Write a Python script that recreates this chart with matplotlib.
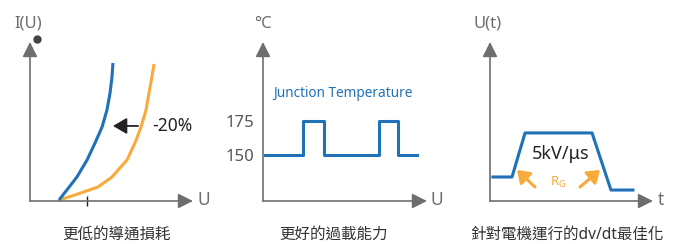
import matplotlib.pyplot as plt
from matplotlib.lines import Line2D

plt.rcParams['font.family'] = ['Noto Sans', 'Noto Sans CJK TC', 'DejaVu Sans']

# colours
blue = '#1f71b8'
orange = '#f9aa3c'
gray = '#6e6e6e'
dark = '#333333'

# panel 1: I(U) curves (arbitrary units)
u_new = [1.78, 2.88, 3.50, 3.99, 4.42, 4.72, 4.91, 5.03, 5.09]
i_new = [0.06, 1.51, 2.58, 3.65, 4.65, 5.72, 6.79, 7.80, 8.68]
u_old = [1.78, 2.76, 4.17, 5.03, 5.95, 6.44, 6.81, 7.12, 7.30, 7.48, 7.61]
i_old = [0.06, 0.38, 0.88, 1.51, 2.58, 3.65, 4.65, 5.72, 6.79, 7.80, 8.62]
u_tick = [3.5]
shift_from = (6.63, 4.72)
shift_to = (5.09, 4.72)

# panel 2: junction temperature pulses
t_temp = [0.12, 2.44, 2.44, 3.72, 3.72, 7.07, 7.07, 8.23, 8.23, 9.39]
temp = [150, 150, 175, 175, 150, 150, 175, 175, 150, 150]
temp_ticks = [150, 175]

# panel 3: switching edge U(t)
t_sw = [0.18, 1.35, 2.15, 6.26, 7.42, 8.77]
u_sw = [1.51, 1.51, 4.28, 4.28, 0.69, 0.69]
rg_arrows = [((2.76, 0.88), (1.66, 1.95)), ((5.52, 0.88), (6.75, 1.95))]

W, H = 680, 244
fig = plt.figure(figsize=(6.8, 2.44), dpi=100)


def px_axes(x0, y0, x1, y1):
    # axes whose lower-left is the pixel origin (x0, y0) and upper-right (x1, y1)
    return fig.add_axes([x0 / W, 1 - y0 / H, (x1 - x0) / W, (y0 - y1) / H])


def ftext(x, y, s, **kw):
    fig.text(x / W, 1 - y / H, s, ha=kw.pop('ha', 'center'), va=kw.pop('va', 'center'), **kw)


def arrows(ax):
    for s in ax.spines.values():
        s.set_visible(False)
    st = '-|>,head_length=0.6,head_width=0.3'
    for end in [(1, 0), (0, 1)]:
        ax.annotate('', xy=end, xytext=(0, 0), xycoords='axes fraction',
                    arrowprops=dict(arrowstyle=st, color=gray, lw=1.2, mutation_scale=15,
                                    shrinkA=0, shrinkB=0))


# ---- panel 1
ax1 = px_axes(30, 201, 193, 42)
ax1.set_xlim(0, 10)
ax1.set_ylim(0, 10)
ax1.plot(u_old, i_old, color=orange, lw=2.2, solid_capstyle='butt', solid_joinstyle='round')
ax1.plot(u_new, i_new, color=blue, lw=2.2, solid_capstyle='butt', solid_joinstyle='round')
ax1.annotate('', xy=shift_to, xytext=shift_from,
             arrowprops=dict(arrowstyle='-|>,head_length=0.6,head_width=0.35',
                             color='#222222', lw=1.3, mutation_scale=14, shrinkA=0, shrinkB=0))
ax1.set_xticks(u_tick)
ax1.set_xticklabels([''])
ax1.tick_params(axis='x', direction='inout', length=7, width=1, color='#222222')
ax1.set_yticks([])
arrows(ax1)
ftext(152, 126, '-20%', ha='left', fontsize=12.5, color='#222222')
ftext(28, 24, 'I(U)', fontsize=12, color=gray)
fig.add_artist(Line2D([37 / W], [1 - 39 / H], marker='o', markersize=5, color='#444444',
                      transform=fig.transFigure))
ftext(437, 200, 'U', fontsize=12.5, color=gray)
ftext(117, 235, '更低的導通損耗', fontsize=11.2, color=dark, fontweight='light')

# ---- panel 2
ax2 = px_axes(263, 201, 427, 42)
ax2.set_xlim(0, 10)
ax2.set_ylim(116.2, 233.1)
ax2.plot(t_temp, temp, color=blue, lw=2.2)
ax2.set_xticks([])
ax2.set_yticks(temp_ticks)
ax2.tick_params(axis='y', length=0, pad=6, labelsize=12, labelcolor='#555555')
arrows(ax2)
ax2.text(0.61, 195.6, 'Junction Temperature', ha='left', va='center', fontsize=9.8, color=blue)
ftext(263, 24, '°C', fontsize=12, color=gray)
ftext(204, 200, 'U', fontsize=12.5, color=gray)
ftext(334, 235, '更好的過載能力', fontsize=11.2, color=dark, fontweight='light')

# ---- panel 3
ax3 = px_axes(490, 201, 653, 42)
ax3.set_xlim(0, 10)
ax3.set_ylim(0, 10)
ax3.plot(t_sw, u_sw, color=blue, lw=2.2)
for tail, head in rg_arrows:
    ax3.annotate('', xy=head, xytext=tail,
                 arrowprops=dict(arrowstyle='-|>,head_length=0.5,head_width=0.35',
                                 color=orange, lw=2.2, mutation_scale=14, shrinkA=0, shrinkB=0))
ax3.set_xticks([])
ax3.set_yticks([])
arrows(ax3)
ax3.text(4.35, 2.95, '5kV/μs', ha='center', va='center', fontsize=13, color='#222222')
ax3.text(4.17, 1.15, r'$\mathregular{R_G}$', ha='center', va='center', fontsize=9.5, color=orange)
ftext(488, 24, 'U(t)', fontsize=12, color=gray)
ftext(661, 200, 't', fontsize=12.5, color=gray)
ftext(567, 235, '針對電機運行的dv/dt最佳化', fontsize=11.2, color=dark, fontweight='light')

fig.savefig('out.png', dpi=100)
